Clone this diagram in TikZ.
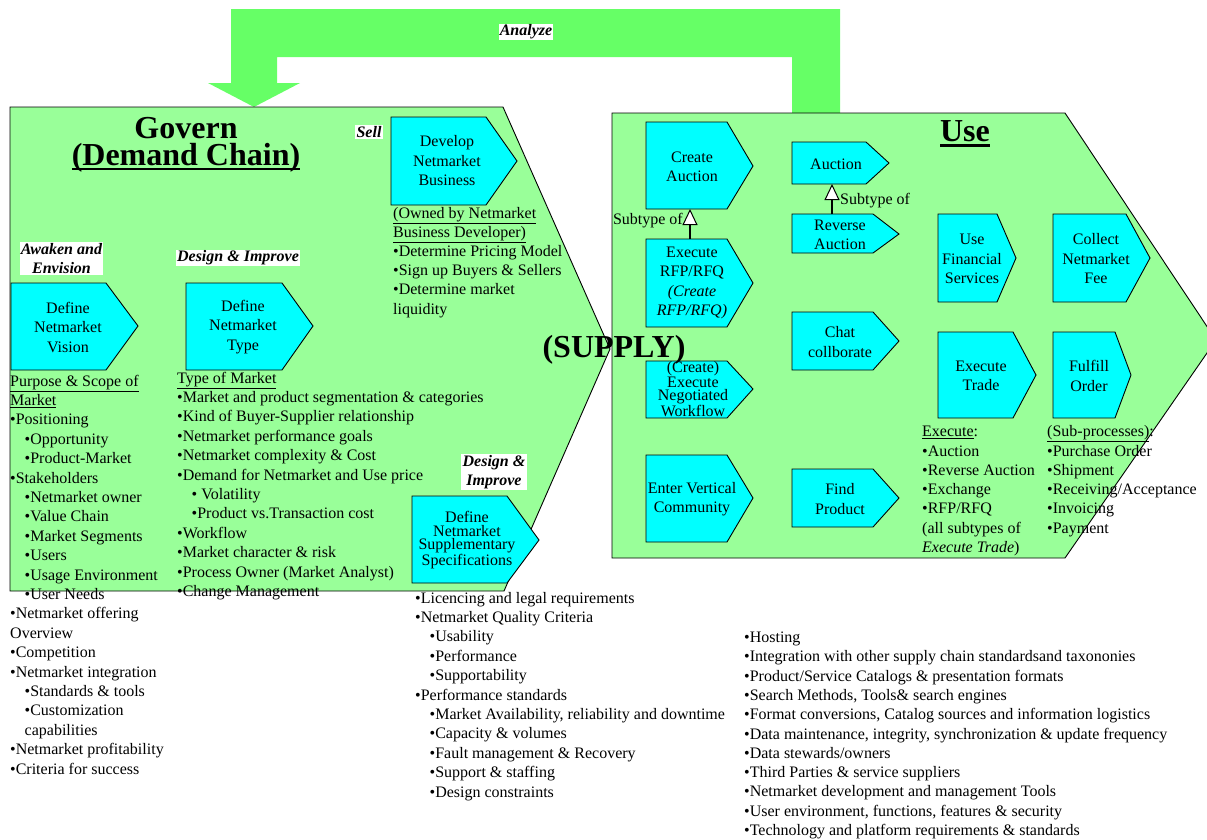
\documentclass[tikz,border=0pt]{standalone}
\usepackage{fontspec}
\setmainfont{Liberation Serif}
\usetikzlibrary{arrows.meta}
\definecolor{zonegreen}{HTML}{99FF99}
\definecolor{bandgreen}{HTML}{66FF66}
\definecolor{chevcyan}{HTML}{00FFFF}
\newcommand\sublead{\hspace*{14.5pt}}
% heavy underline for the big headings
\newcommand\thickul[2]{\setbox0\hbox{#2}\rlap{\rule[-#1]{\wd0}{2.5pt}}\box0}

\begin{document}
\begin{tikzpicture}[x=1pt,y=-1pt,
  body/.style={font=\fontsize{16}{19.4}\selectfont, inner sep=0pt},
  boxtext/.style={font=\fontsize{16}{19.5}\selectfont, align=center, inner sep=0pt},
  tighttext/.style={font=\fontsize{16}{13.7}\selectfont, align=center, inner sep=0pt},
  tag/.style={font=\fontsize{16}{18.5}\selectfont\bfseries\itshape, fill=white, inner sep=1.2pt, align=center},
  title/.style={font=\fontsize{32}{28}\selectfont\bfseries, inner sep=0pt},
  chev/.style={draw=black, fill=chevcyan, line width=0.9pt, line join=miter},
  zone/.style={draw=black, fill=zonegreen, line width=0.9pt},
  subtype/.style={line width=1.6pt, -{Triangle[length=16pt,width=15pt,fill=white,line width=1pt]}}
]
\useasboundingbox (0,0) rectangle (1207,839);
\clip (0,0) rectangle (1207,839);

% feedback band from Use back to Govern
\fill[bandgreen] (231,9) -- (840,9) -- (840,113) -- (792,113) -- (792,57) -- (277,57)
  -- (277,83) -- (300,83) -- (254,107) -- (208,83) -- (231,83) -- cycle;
\node[tag] (analyze) at (526,32) {Analyze};

% the two process zones
\draw[zone] (10,107) -- (503,107) -- (610,349) -- (504,591) -- (10,591) -- cycle;
\draw[zone] (612,113) -- (1065,113) -- (1216,340) -- (1065,558) -- (612,558) -- cycle;

% process chevrons: left / top / flat end / tip x / tip y / bottom
\foreach \l/\t/\f/\p/\m/\b in {
  391/117/486/517/161/205,
  11/283/106/138/326/370,
  186/283/282/313/326/370,
  412/496/507/539/540/583,
  646/122/727/753/166/209,
  646/239/727/753/283/327,
  792/142/866/889/163/184,
  792/214/873/899/234/253,
  938/214/997/1016/258/302,
  1053/214/1126/1150/258/302,
  792/312/873/899/341/370,
  646/361/727/753/389/418,
  938/332/1013/1036/375/418,
  1053/332/1115/1131/375/418,
  646/455/727/753/498/542,
  792/469/873/899/498/527}
  \draw[chev] (\l,\t) -- (\f,\t) -- (\p,\m) -- (\f,\b) -- (\l,\b) -- cycle;

% chevron captions
\node[boxtext] (develop) at (447,161) {Develop\\Netmarket\\Business};
\node[boxtext] (vision) at (68,327) {Define\\Netmarket\\Vision};
\node[boxtext] (mtype) at (243,327) {Define\\Netmarket\\Type};
\node[tighttext] (supp) at (467,540) {Define\\Netmarket\\Supplementary\\Specifications};
\node[boxtext] (createauc) at (692,167) {Create\\Auction};
\node[boxtext] (execrfp) at (692,283) {Execute\\RFP/RFQ\\\textit{(Create}\\\textit{RFP/RFQ)}};
\node[boxtext] (auction) at (836,164) {Auction};
\node[boxtext] (revauc) at (840,235) {Reverse\\Auction};
\node[boxtext] (finserv) at (972,259) {Use\\Financial\\Services};
\node[boxtext] (collect) at (1096,259) {Collect\\Netmarket\\Fee};
\node[boxtext] (chat) at (840,342) {Chat\\collborate};
\node[tighttext] (negot) at (693,389) {(Create)\\Execute\\Negotiated\\Workflow};
\node[boxtext] (exectrade) at (981,376) {Execute\\Trade};
\node[boxtext] (fulfill) at (1089,376) {Fulfill\\Order};
\node[boxtext] (vertical) at (692,499) {Enter Vertical\\Community};
\node[boxtext] (findprod) at (840,499) {Find\\Product};

% subtype relations
\coordinate (caS) at (690,209);
\coordinate (rfpN) at (690,239);
\draw[subtype] (rfpN) -- (caS);
\node[body, anchor=base east] (sub1) at (683,224) {Subtype of};
\coordinate (aucS) at (832,184);
\coordinate (revN) at (832,214);
\draw[subtype] (revN) -- (aucS);
\node[body, anchor=base west] (sub2) at (840,204) {Subtype of};

% titles
\node[title, anchor=base] (govern) at (186,138)
  {\begin{tabular}[t]{@{}c@{}}Govern\\[-3pt]\thickul{4.5pt}{(Demand Chain)}\end{tabular}};
\node[title, anchor=base] (use) at (965,141) {\thickul{5.5pt}{Use}};
\node[title, anchor=base] (supply) at (614,357) {(SUPPLY)};

% phase tags
\node[tag] (sell) at (369,132) {Sell};
\node[tag] (awaken) at (61.5,258.5) {Awaken and\\Envision};
\node[tag] (design1) at (238,258) {Design \& Improve};
\node[tag] (design2) at (494,472) {Design \&\\Improve};

% text lists
\foreach \ln [count=\i from 0] in {
  \underline{Purpose \& Scope of},
  \underline{Market},
  •Positioning,
  \sublead•Opportunity,
  \sublead•Product-Market,
  •Stakeholders,
  \sublead•Netmarket owner,
  \sublead•Value Chain,
  \sublead•Market Segments,
  \sublead•Users,
  \sublead•Usage Environment,
  \sublead•User Needs,
  •Netmarket offering,
  Overview,
  •Competition,
  •Netmarket integration,
  \sublead•Standards \& tools,
  \sublead•Customization,
  \sublead capabilities,
  •Netmarket profitability,
  •Criteria for success}
  \node[body, anchor=base west] (purpose-\i) at (10,{386+19.4*\i}) {\ln};

\foreach \ln [count=\i from 0] in {
  \underline{Type of Market},
  •Market and product segmentation \& categories,
  •Kind of Buyer-Supplier relationship,
  •Netmarket performance goals,
  •Netmarket complexity \& Cost,
  •Demand for Netmarket and Use price,
  \sublead• Volatility,
  \sublead•Product vs.Transaction cost,
  •Workflow,
  •Market character \& risk,
  •Process Owner (Market Analyst),
  •Change Management}
  \node[body, anchor=base west] (typeof-\i) at (177,{383+19.4*\i}) {\ln};

\foreach \ln [count=\i from 0] in {
  \underline{(Owned by Netmarket},
  \underline{Business Developer)},
  •Determine Pricing Model,
  •Sign up Buyers \& Sellers,
  •Determine market,
  liquidity}
  \node[body, anchor=base west] (owned-\i) at (393,{218+19.2*\i}) {\ln};

\foreach \ln [count=\i from 0] in {
  •Licencing and legal requirements,
  •Netmarket Quality Criteria,
  \sublead•Usability,
  \sublead•Performance,
  \sublead•Supportability,
  •Performance standards,
  {\sublead•Market Availability, reliability and downtime},
  \sublead•Capacity \& volumes,
  \sublead•Fault management \& Recovery,
  \sublead•Support \& staffing,
  \sublead•Design constraints}
  \node[body, anchor=base west] (quality-\i) at (415,{603+19.4*\i}) {\ln};

\foreach \ln [count=\i from 0] in {
  •Hosting,
  •Integration with other supply chain standardsand taxononies,
  •Product/Service Catalogs \& presentation formats,
  {•Search Methods, Tools\& search engines},
  {•Format conversions, Catalog sources and information logistics},
  {•Data maintenance, integrity, synchronization \& update frequency},
  •Data stewards/owners,
  •Third Parties \& service suppliers,
  •Netmarket development and management Tools,
  {•User environment, functions, features \& security},
  •Technology and platform requirements \& standards}
  \node[body, anchor=base west] (hosting-\i) at (744,{642.5+19.3*\i}) {\ln};

\foreach \ln [count=\i from 0] in {
  \underline{Execute}:,
  •Auction,
  •Reverse Auction,
  •Exchange,
  •RFP/RFQ,
  {\relax(all subtypes of},
  \textit{Execute Trade})}
  \node[body, anchor=base west] (execute-\i) at (922,{436.7+19.3*\i}) {\ln};

\foreach \ln [count=\i from 0] in {
  \underline{(Sub-processes)}:,
  •Purchase Order,
  •Shipment,
  •Receiving/Acceptance,
  •Invoicing,
  •Payment}
  \node[body, anchor=base west] (subproc-\i) at (1047,{436.7+19.3*\i}) {\ln};
\end{tikzpicture}
\end{document}
